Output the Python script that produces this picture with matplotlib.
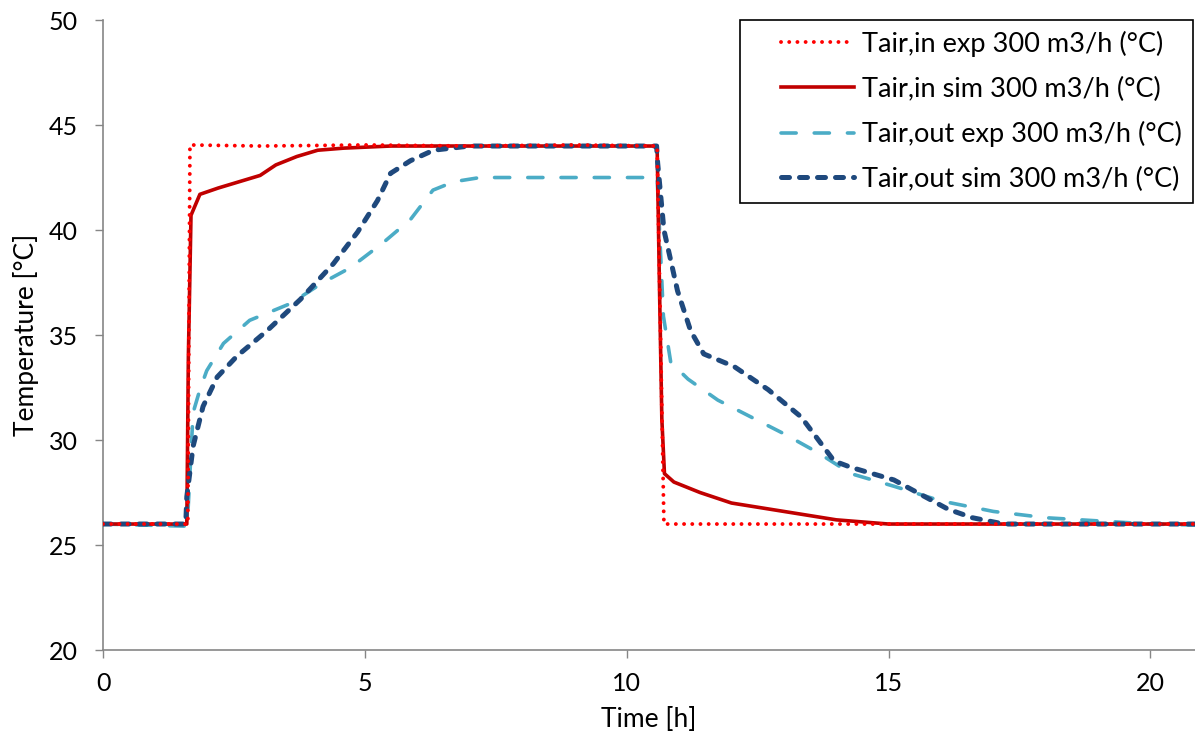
import numpy as np
import matplotlib.pyplot as plt
from matplotlib.legend_handler import HandlerLine2D

plt.rcParams['font.family'] = ['Lato', 'DejaVu Sans']

# Data (time in h, temperature in °C)
t_in_exp = [0, 1.62, 1.66, 3.0, 5.0, 7.0, 9.0, 10.58, 10.71, 20.9]
T_in_exp = [26.0, 26.0, 44.05, 44.0, 44.05, 44.0, 44.05, 44.0, 26.0, 26.0]

t_in_sim = [0, 1.6, 1.63, 1.68, 1.85, 2.2, 2.6, 3.0, 3.3, 3.7, 4.1, 4.6, 5.5,
            10.58, 10.62, 10.67, 10.72, 10.9, 11.4, 12.0, 12.5, 13.0, 13.5,
            14.0, 15.0, 20.9]
T_in_sim = [26.0, 26.0, 34.0, 40.7, 41.7, 42.0, 42.3, 42.6, 43.1, 43.5, 43.8,
            43.9, 44.0, 44.0, 38.0, 31.0, 28.4, 28.0, 27.5, 27.0, 26.8, 26.6,
            26.4, 26.2, 26.0, 26.0]

t_out_exp = [0, 1.55, 1.62, 1.72, 1.85, 1.98, 2.3, 2.8, 3.58, 4.2, 4.72, 5.35,
             5.87, 6.3, 6.7, 7.2, 10.58, 10.62, 10.7, 10.84, 11.17, 11.74,
             12.37, 13.0, 13.65, 14.28, 15.1, 16.0, 17.0, 18.0, 19.0, 20.0, 20.9]
T_out_exp = [26.0, 25.9, 26.5, 31.3, 32.4, 33.3, 34.6, 35.7, 36.5, 37.5, 38.2,
             39.4, 40.5, 41.9, 42.3, 42.5, 42.5, 40.3, 35.9, 33.7, 32.9, 31.9,
             31.1, 30.3, 29.4, 28.4, 27.8, 27.1, 26.6, 26.3, 26.15, 26.0, 25.95]

t_out_sim = [0, 1.58, 1.6, 1.72, 1.91, 2.18, 2.56, 3.13, 3.77, 4.4, 4.86, 5.24,
             5.49, 5.87, 6.31, 7.0, 10.57, 10.59, 10.71, 10.97, 11.22, 11.47,
             12.05, 12.7, 13.33, 13.96, 14.28, 15.1, 16.14, 16.6, 17.2, 20.9]
T_out_sim = [26.0, 26.0, 27.3, 29.7, 31.6, 33.0, 34.0, 35.2, 36.7, 38.4, 39.9,
             41.4, 42.7, 43.3, 43.8, 44.0, 44.0, 43.2, 40.0, 37.1, 35.2, 34.1,
             33.5, 32.4, 31.1, 29.0, 28.7, 28.1, 26.7, 26.3, 26.0, 26.0]

labels = ['Tair,in exp 300 m3/h (°C)', 'Tair,in sim 300 m3/h (°C)',
          'Tair,out exp 300 m3/h (°C)', 'Tair,out sim 300 m3/h (°C)']

fig = plt.figure(figsize=(11.95, 7.36), dpi=100)
ax = fig.add_axes([0.0862, 0.1168, 0.9138, 0.856])

ax.plot(t_in_exp, T_in_exp, color='#FF0000', lw=2.8, linestyle=(0, (0.01, 2.1)),
        dash_capstyle='round', label=labels[0], zorder=4)
ax.plot(t_in_sim, T_in_sim, color='#C00000', lw=2.6, label=labels[1], zorder=3)
ax.plot(t_out_exp, T_out_exp, color='#4BACC6', lw=2.6, linestyle=(0, (4.2, 5.0)),
        dash_capstyle='round', label=labels[2], zorder=2)
ax.plot(t_out_sim, T_out_sim, color='#1F497D', lw=3.6, linestyle=(0, (1.6, 2.0)),
        dash_capstyle='round', label=labels[3], zorder=3)

ax.set_xlim(0, 20.85)
ax.set_ylim(20, 50)
ax.set_xticks([0, 5, 10, 15, 20])
ax.set_yticks([20, 25, 30, 35, 40, 45, 50])
for s in ['top', 'right']:
    ax.spines[s].set_visible(False)
for s in ['left', 'bottom']:
    ax.spines[s].set_color('#868686')
    ax.spines[s].set_linewidth(1.2)
ax.tick_params(direction='out', length=6, width=1, color='#868686', labelsize=18)
ax.tick_params(axis='y', pad=12)
ax.tick_params(axis='x', pad=10)
ax.set_xlabel('Time [h]', fontsize=19)
ax.set_ylabel('Temperature [°C]', fontsize=19)
ax.xaxis.set_label_coords(0.5, -0.0905)
ax.yaxis.set_label_coords(-0.0586, 0.5)

leg = ax.legend(loc='upper right', bbox_to_anchor=(1193 / 1195, 1 - 20 / 736),
                bbox_transform=fig.transFigure, borderaxespad=0, fontsize=19.5,
                handlelength=3.8, handletextpad=0.3, labelspacing=0.72,
                borderpad=0.4, fancybox=False, framealpha=1,
                handler_map={plt.Line2D: HandlerLine2D(xpad=1.1)})
leg.get_frame().set_edgecolor('black')
leg.get_frame().set_linewidth(1.2)

plt.savefig('out.png', dpi=100)
